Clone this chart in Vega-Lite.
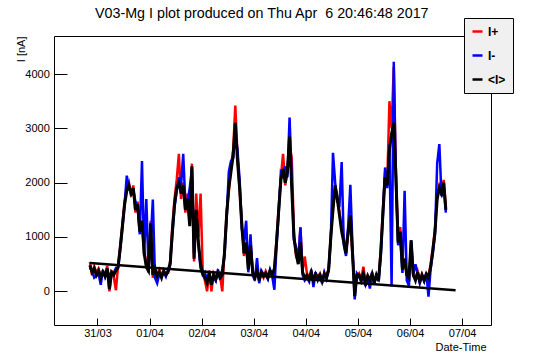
{
"$schema":"https://vega.github.io/schema/vega-lite/v6.json",
"width":437,"height":289,
"autosize":{"type":"none"},
"padding":{"left":54,"top":36,"right":55,"bottom":37},
"background":"white",
"title":{"text":"V03-Mg I plot produced on Thu Apr\u00a0 6 20:46:48 2017","anchor":"start","frame":"group","dx":41,"dy":15,"offset":0,"baseline":"alphabetic","font":"Liberation Sans","fontSize":14.3,"fontWeight":"normal","color":"black"},
"datasets":{
"trend":[{"t":"2017-03-30 20:30","v":520},{"t":"2017-04-06 21:00","v":18}],
"main":[
{"t":"2017-03-30 20:30","p":540,"m":430,"a":480},
{"t":"2017-03-30 21:30","p":300,"m":380,"a":350},
{"t":"2017-03-30 22:30","p":460,"m":250,"a":420},
{"t":"2017-03-30 23:30","p":340,"m":280,"a":300},
{"t":"2017-03-31 00:30","p":420,"m":330,"a":380},
{"t":"2017-03-31 01:30","p":290,"m":120,"a":250},
{"t":"2017-03-31 02:30","p":330,"m":390,"a":360},
{"t":"2017-03-31 03:30","p":300,"m":260,"a":280},
{"t":"2017-03-31 04:30","p":470,"m":380,"a":420},
{"t":"2017-03-31 05:30","p":0,"m":300,"a":40},
{"t":"2017-03-31 06:30","p":380,"m":300,"a":350},
{"t":"2017-03-31 07:30","p":270,"m":340,"a":300},
{"t":"2017-03-31 08:30","p":20,"m":430,"a":380},
{"t":"2017-03-31 09:30","p":480,"m":430,"a":450},
{"t":"2017-03-31 10:30","p":850,"m":780,"a":800},
{"t":"2017-03-31 11:30","p":1250,"m":1180,"a":1200},
{"t":"2017-03-31 12:30","p":1650,"m":1600,"a":1600},
{"t":"2017-03-31 13:30","p":1900,"m":2130,"a":1850},
{"t":"2017-03-31 14:30","p":2000,"m":1900,"a":1950},
{"t":"2017-03-31 15:30","p":1750,"m":1850,"a":1800},
{"t":"2017-03-31 16:30","p":1950,"m":1850,"a":1900},
{"t":"2017-03-31 17:30","p":1450,"m":1650,"a":1500},
{"t":"2017-03-31 18:30","p":1650,"m":1550,"a":1600},
{"t":"2017-03-31 19:30","p":1150,"m":1050,"a":1100},
{"t":"2017-03-31 20:30","p":1250,"m":2400,"a":1300},
{"t":"2017-03-31 21:30","p":750,"m":650,"a":700},
{"t":"2017-03-31 22:30","p":500,"m":1700,"a":450},
{"t":"2017-03-31 23:30","p":350,"m":420,"a":380},
{"t":"2017-04-01 00:30","p":1300,"m":900,"a":1250},
{"t":"2017-04-01 01:30","p":250,"m":1690,"a":300},
{"t":"2017-04-01 02:30","p":380,"m":250,"a":420},
{"t":"2017-04-01 03:30","p":310,"m":150,"a":280},
{"t":"2017-04-01 04:30","p":400,"m":320,"a":350},
{"t":"2017-04-01 05:30","p":300,"m":280,"a":250},
{"t":"2017-04-01 06:30","p":360,"m":350,"a":380},
{"t":"2017-04-01 07:30","p":330,"m":270,"a":300},
{"t":"2017-04-01 08:30","p":340,"m":400,"a":360},
{"t":"2017-04-01 09:30","p":560,"m":520,"a":500},
{"t":"2017-04-01 10:30","p":1200,"m":1050,"a":1100},
{"t":"2017-04-01 11:30","p":1700,"m":1550,"a":1600},
{"t":"2017-04-01 12:30","p":2050,"m":1850,"a":1900},
{"t":"2017-04-01 13:30","p":2530,"m":2100,"a":2000},
{"t":"2017-04-01 14:30","p":1700,"m":1950,"a":1800},
{"t":"2017-04-01 15:30","p":2000,"m":2530,"a":1950},
{"t":"2017-04-01 16:30","p":1450,"m":1600,"a":1500},
{"t":"2017-04-01 17:30","p":1800,"m":1650,"a":1700},
{"t":"2017-04-01 18:30","p":1250,"m":1900,"a":1200},
{"t":"2017-04-01 19:30","p":2350,"m":2250,"a":2300},
{"t":"2017-04-01 20:30","p":550,"m":700,"a":600},
{"t":"2017-04-01 21:30","p":1800,"m":1450,"a":1500},
{"t":"2017-04-01 22:30","p":1000,"m":850,"a":900},
{"t":"2017-04-01 23:30","p":1800,"m":420,"a":500},
{"t":"2017-04-02 00:30","p":350,"m":300,"a":320},
{"t":"2017-04-02 01:30","p":200,"m":350,"a":250},
{"t":"2017-04-02 02:30","p":0,"m":200,"a":150},
{"t":"2017-04-02 03:30","p":380,"m":320,"a":350},
{"t":"2017-04-02 04:30","p":0,"m":180,"a":120},
{"t":"2017-04-02 05:30","p":330,"m":260,"a":300},
{"t":"2017-04-02 06:30","p":250,"m":190,"a":220},
{"t":"2017-04-02 07:30","p":300,"m":400,"a":350},
{"t":"2017-04-02 08:30","p":280,"m":220,"a":250},
{"t":"2017-04-02 09:30","p":0,"m":400,"a":300},
{"t":"2017-04-02 10:30","p":750,"m":650,"a":700},
{"t":"2017-04-02 11:30","p":1450,"m":1350,"a":1400},
{"t":"2017-04-02 12:30","p":1850,"m":2200,"a":1900},
{"t":"2017-04-02 13:30","p":2300,"m":2400,"a":2200},
{"t":"2017-04-02 14:30","p":2600,"m":2450,"a":2500},
{"t":"2017-04-02 15:30","p":3420,"m":2950,"a":3100},
{"t":"2017-04-02 16:30","p":2500,"m":2600,"a":2400},
{"t":"2017-04-02 17:30","p":1850,"m":2050,"a":1900},
{"t":"2017-04-02 18:30","p":1300,"m":1150,"a":1200},
{"t":"2017-04-02 19:30","p":650,"m":900,"a":700},
{"t":"2017-04-02 20:30","p":850,"m":1300,"a":900},
{"t":"2017-04-02 21:30","p":450,"m":350,"a":400},
{"t":"2017-04-02 22:30","p":800,"m":1050,"a":850},
{"t":"2017-04-02 23:30","p":380,"m":300,"a":350},
{"t":"2017-04-03 00:30","p":300,"m":200,"a":250},
{"t":"2017-04-03 01:30","p":350,"m":610,"a":380},
{"t":"2017-04-03 02:30","p":240,"m":150,"a":200},
{"t":"2017-04-03 03:30","p":330,"m":380,"a":350},
{"t":"2017-04-03 04:30","p":250,"m":310,"a":280},
{"t":"2017-04-03 05:30","p":370,"m":300,"a":330},
{"t":"2017-04-03 06:30","p":280,"m":220,"a":250},
{"t":"2017-04-03 07:30","p":350,"m":400,"a":380},
{"t":"2017-04-03 08:30","p":320,"m":280,"a":300},
{"t":"2017-04-03 09:30","p":400,"m":30,"a":420},
{"t":"2017-04-03 10:30","p":950,"m":850,"a":900},
{"t":"2017-04-03 11:30","p":1550,"m":1450,"a":1500},
{"t":"2017-04-03 12:30","p":2100,"m":2200,"a":2050},
{"t":"2017-04-03 13:30","p":2530,"m":2150,"a":2250},
{"t":"2017-04-03 14:30","p":1950,"m":2300,"a":2000},
{"t":"2017-04-03 15:30","p":2250,"m":2100,"a":2200},
{"t":"2017-04-03 16:30","p":2700,"m":3200,"a":2850},
{"t":"2017-04-03 17:30","p":2450,"m":2050,"a":1900},
{"t":"2017-04-03 18:30","p":1100,"m":950,"a":1000},
{"t":"2017-04-03 19:30","p":650,"m":800,"a":700},
{"t":"2017-04-03 20:30","p":540,"m":600,"a":500},
{"t":"2017-04-03 21:30","p":1180,"m":1180,"a":900},
{"t":"2017-04-03 22:30","p":380,"m":300,"a":350},
{"t":"2017-04-03 23:30","p":640,"m":200,"a":250},
{"t":"2017-04-04 00:30","p":330,"m":250,"a":300},
{"t":"2017-04-04 01:30","p":250,"m":180,"a":220},
{"t":"2017-04-04 02:30","p":320,"m":400,"a":350},
{"t":"2017-04-04 03:30","p":230,"m":80,"a":200},
{"t":"2017-04-04 04:30","p":300,"m":350,"a":320},
{"t":"2017-04-04 05:30","p":270,"m":200,"a":250},
{"t":"2017-04-04 06:30","p":330,"m":280,"a":300},
{"t":"2017-04-04 07:30","p":200,"m":150,"a":180},
{"t":"2017-04-04 08:30","p":300,"m":350,"a":320},
{"t":"2017-04-04 09:30","p":280,"m":230,"a":250},
{"t":"2017-04-04 10:30","p":420,"m":380,"a":400},
{"t":"2017-04-04 11:30","p":1050,"m":950,"a":1000},
{"t":"2017-04-04 12:30","p":1550,"m":2550,"a":1500},
{"t":"2017-04-04 13:30","p":1900,"m":2000,"a":1950},
{"t":"2017-04-04 14:30","p":1750,"m":1650,"a":1700},
{"t":"2017-04-04 15:30","p":1450,"m":1600,"a":1400},
{"t":"2017-04-04 16:30","p":1150,"m":2380,"a":1100},
{"t":"2017-04-04 17:30","p":1000,"m":850,"a":900},
{"t":"2017-04-04 18:30","p":750,"m":650,"a":700},
{"t":"2017-04-04 19:30","p":1050,"m":1200,"a":1100},
{"t":"2017-04-04 20:30","p":1300,"m":1960,"a":1400},
{"t":"2017-04-04 21:30","p":650,"m":800,"a":700},
{"t":"2017-04-04 22:30","p":100,"m":-150,"a":-90},
{"t":"2017-04-04 23:30","p":280,"m":330,"a":300},
{"t":"2017-04-05 00:30","p":330,"m":270,"a":300},
{"t":"2017-04-05 01:30","p":220,"m":180,"a":200},
{"t":"2017-04-05 02:30","p":455,"m":300,"a":330},
{"t":"2017-04-05 03:30","p":170,"m":100,"a":150},
{"t":"2017-04-05 04:30","p":300,"m":250,"a":280},
{"t":"2017-04-05 05:30","p":220,"m":50,"a":200},
{"t":"2017-04-05 06:30","p":300,"m":350,"a":320},
{"t":"2017-04-05 07:30","p":180,"m":120,"a":150},
{"t":"2017-04-05 08:30","p":280,"m":330,"a":300},
{"t":"2017-04-05 09:30","p":220,"m":180,"a":200},
{"t":"2017-04-05 10:30","p":750,"m":650,"a":700},
{"t":"2017-04-05 11:30","p":1500,"m":1400,"a":1430},
{"t":"2017-04-05 12:30","p":2200,"m":2280,"a":2100},
{"t":"2017-04-05 13:30","p":2000,"m":1900,"a":1950},
{"t":"2017-04-05 14:30","p":3500,"m":2700,"a":2600},
{"t":"2017-04-05 15:30","p":3000,"m":90,"a":2900},
{"t":"2017-04-05 16:30","p":4130,"m":4225,"a":3100},
{"t":"2017-04-05 17:30","p":2200,"m":2000,"a":2100},
{"t":"2017-04-05 18:30","p":950,"m":850,"a":900},
{"t":"2017-04-05 19:30","p":1185,"m":1000,"a":1100},
{"t":"2017-04-05 20:30","p":450,"m":340,"a":400},
{"t":"2017-04-05 21:30","p":550,"m":1850,"a":600},
{"t":"2017-04-05 22:30","p":330,"m":200,"a":300},
{"t":"2017-04-05 23:30","p":270,"m":100,"a":250},
{"t":"2017-04-06 00:30","p":730,"m":940,"a":940},
{"t":"2017-04-06 01:30","p":280,"m":320,"a":300},
{"t":"2017-04-06 02:30","p":230,"m":500,"a":200},
{"t":"2017-04-06 03:30","p":370,"m":320,"a":350},
{"t":"2017-04-06 04:30","p":200,"m":150,"a":180},
{"t":"2017-04-06 05:30","p":320,"m":280,"a":300},
{"t":"2017-04-06 06:30","p":220,"m":180,"a":200},
{"t":"2017-04-06 07:30","p":300,"m":340,"a":320},
{"t":"2017-04-06 08:30","p":270,"m":-100,"a":250},
{"t":"2017-04-06 09:30","p":500,"m":420,"a":450},
{"t":"2017-04-06 10:30","p":800,"m":700,"a":750},
{"t":"2017-04-06 11:30","p":1150,"m":1050,"a":1100},
{"t":"2017-04-06 12:30","p":1750,"m":2350,"a":1700},
{"t":"2017-04-06 13:30","p":1950,"m":2710,"a":1900},
{"t":"2017-04-06 14:30","p":1850,"m":1750,"a":1800},
{"t":"2017-04-06 15:30","p":2050,"m":1950,"a":2000},
{"t":"2017-04-06 16:30","p":1550,"m":1450,"a":1500}
]},
"layer":[
{"data":{"name":"main"},"mark":{"type":"line","strokeWidth":2.5,"clip":true},
"encoding":{
"x":{"field":"t","type":"temporal","scale":{"domain":[{"year":2017,"month":3,"date":30,"hours":3,"minutes":58},{"year":2017,"month":4,"date":7,"hours":13,"minutes":18}]},
"axis":{"orient":"bottom","offset":-7,"domain":false,"tickCount":{"interval":"day","step":1},"format":"%d/%m","tickSize":7,"labelPadding":2.5,"labelBaseline":"top","labelAlign":"center","labelFlush":false,"labelOverlap":false,"title":"Date-Time","titleAlign":"right","titleBaseline":"middle","titleX":432,"titleY":29}},
"y":{"field":"p","type":"quantitative","scale":{"domain":[-620,4700],"nice":false,"zero":false},
"axis":{"orient":"left","offset":-13,"domain":false,"values":[0,1000,2000,3000,4000],"format":"d","tickSize":13,"labelPadding":4.7,"labelAlign":"right","labelBaseline":"middle","title":"I [nA]","titleAngle":270,"titleAlign":"right","titleBaseline":"middle","titleX":-46,"titleY":0}},
"color":{"datum":"I+","type":"nominal","scale":{"domain":["I+","I-","<I>"],"range":["#ff0000","#0000ff","#000000"]},
"legend":{"orient":"none","legendX":410,"legendY":-18,"title":null,"symbolType":"stroke","symbolStrokeWidth":2.5,"symbolSize":100,"labelFontSize":12,"labelFontWeight":"bold","labelColor":"black","fillColor":"#f0f0f0","strokeColor":"black","padding":7,"rowPadding":11}}
}},
{"data":{"name":"main"},"mark":{"type":"line","strokeWidth":2.5,"clip":true},
"encoding":{
"x":{"field":"t","type":"temporal"},
"y":{"field":"m","type":"quantitative"},
"color":{"datum":"I-","type":"nominal"}
}},
{"data":{"name":"trend"},"mark":{"type":"line","strokeWidth":2.5,"color":"black","clip":true},
"encoding":{
"x":{"field":"t","type":"temporal"},
"y":{"field":"v","type":"quantitative"}
}},
{"data":{"name":"main"},"mark":{"type":"line","strokeWidth":3,"clip":true},
"encoding":{
"x":{"field":"t","type":"temporal"},
"y":{"field":"a","type":"quantitative"},
"color":{"datum":"<I>","type":"nominal"}
}}
],
"config":{
"font":"Liberation Sans",
"view":{"stroke":"black","strokeWidth":1},
"axis":{"labelFont":"Liberation Sans","labelFontSize":11,"labelColor":"black","tickColor":"black","domainColor":"black","titleFont":"Liberation Sans","titleFontSize":11,"titleFontWeight":"normal","titleColor":"black","grid":false}
}
}
